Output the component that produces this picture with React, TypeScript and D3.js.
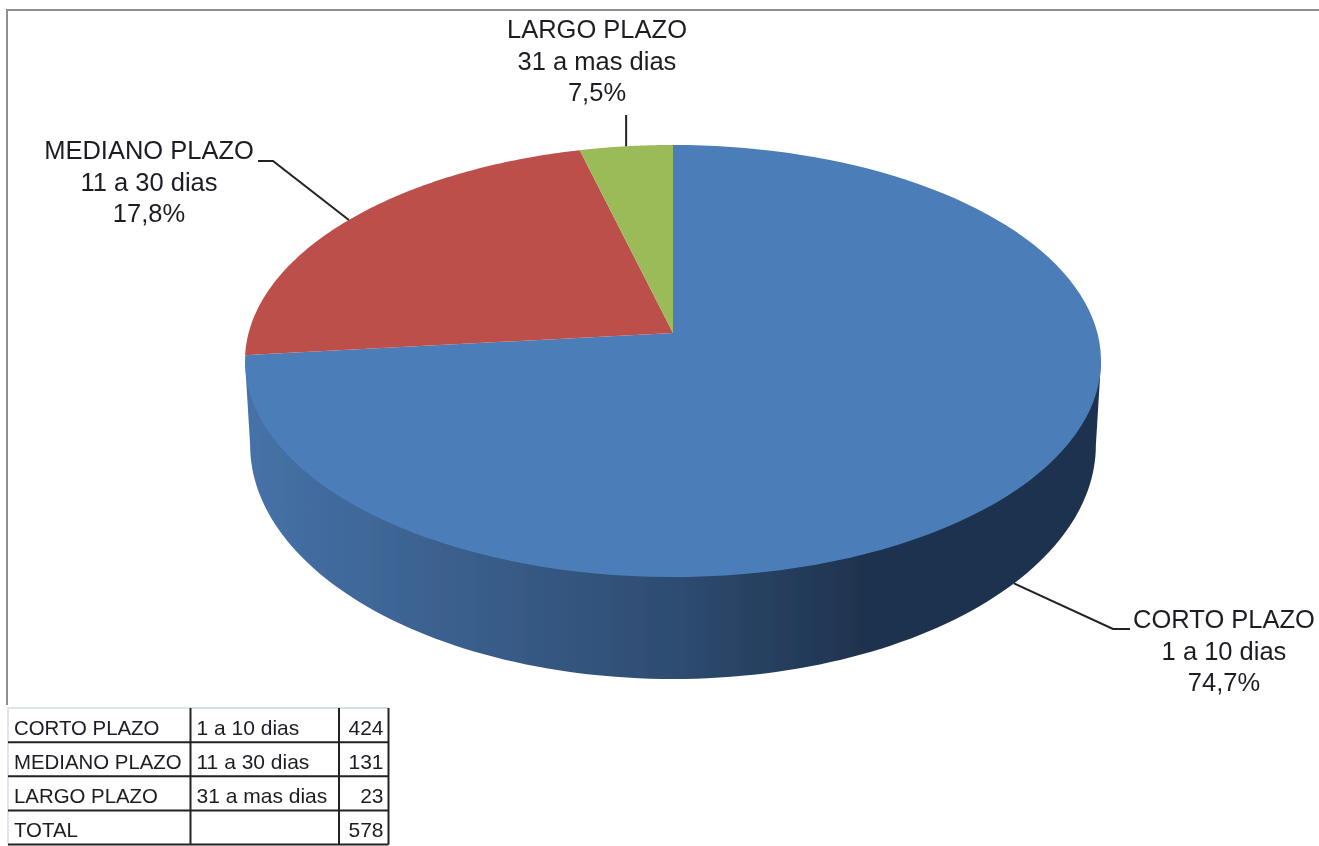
import * as d3 from 'd3';
import { type FC } from 'react';

const categories = ['CORTO PLAZO', 'MEDIANO PLAZO', 'LARGO PLAZO'];
const ranges = ['1 a 10 dias', '11 a 30 dias', '31 a mas dias'];
const counts = [424, 131, 23];
const percentLabels = ['74,7%', '17,8%', '7,5%'];
const sliceColors = ['#4c7db9', '#bd4f4c', '#9bbb59'];

const WIDTH = 1319;
const HEIGHT = 846;
const FONT = '"Liberation Sans", Arial, sans-serif';
const TEXT_COLOR = '#1c1c24';

// Perspective of the disc: unit circle -> screen, fitted to the top ellipse
const cx = 673;
const apexY = 333;
const rx = 424.4;
const ry = 212.4;
const tilt = -0.1296;
// Lower rim of the side wall is a little narrower and rounder than the top
const wallDrop = 81.7;
const wallScaleX = 0.988;
const wallScaleY = 1.083;

const project = (angle: number, drop = 0, sx = 1, sy = 1): [number, number] => {
  const u = Math.sin(angle);
  const v = -Math.cos(angle);
  const w = 1 + tilt * v;
  return [cx + (sx * rx * u) / w, apexY + drop + (sy * ry * v) / w];
};

const arcPoints = (start: number, end: number, drop = 0, sx = 1, sy = 1) =>
  d3.range(0, 121).map((i) => project(start + ((end - start) * i) / 120, drop, sx, sy));

const line = d3.line();

const pieData = d3
  .pie<number>()
  .sort(null)
  .value((d) => d)(counts);

// Where the disc outline is widest, the side wall starts
const sideAngle = Math.acos(tilt);
const wallPath =
  line([
    project(sideAngle),
    ...arcPoints(sideAngle, 2 * Math.PI - sideAngle, wallDrop, wallScaleX, wallScaleY),
    project(2 * Math.PI - sideAngle),
  ]) + 'Z';

const midAngle = (d: d3.PieArcDatum<number>) => (d.startAngle + d.endAngle) / 2;

// Label blocks: centre x, first baseline, and the leader's elbow points
const labelLayout = [
  { x: 1224, y: 628, onWall: true, elbow: [[1113, 629], [1130, 629]] },
  { x: 149, y: 159, onWall: false, elbow: [[273, 161], [258, 161]] },
  { x: 597, y: 38, onWall: false, elbow: [[0, 115]] },
];
const labelLineHeight = 31.5;

// Table grid
const colEdges = [8, 190.5, 339, 388.5];
const rowScale = d3.scaleLinear().domain([0, 4]).range([708, 844.5]);
const tableRows = [
  ...categories.map((c, i) => [c, ranges[i], String(counts[i])]),
  ['TOTAL', '', String(d3.sum(counts))],
];

const App: FC = () => (
  <svg
    width={WIDTH}
    height={HEIGHT}
    viewBox={`0 0 ${WIDTH} ${HEIGHT}`}
    style={{ position: 'absolute', left: 0, top: 0, background: '#fff' }}
  >
    <defs>
      <linearGradient id="wall" gradientUnits="userSpaceOnUse" x1={245} x2={860} y1={0} y2={0}>
        <stop offset="0" stopColor="#4672a8" />
        <stop offset="0.7" stopColor="#2e4c71" />
        <stop offset="1" stopColor="#1f334f" />
      </linearGradient>
      <filter id="soft" x="-5%" y="-5%" width="110%" height="110%">
        <feGaussianBlur stdDeviation="0.5" />
      </filter>
    </defs>

    <g filter="url(#soft)">
      {/* Chart frame */}
      <path d="M7,705V10H1319" fill="none" stroke="#8f8f8f" strokeWidth={2} />

      {/* Side wall */}
      <path d={wallPath} fill="url(#wall)" />

      {/* Top face */}
      {pieData.map((d, i) => (
        <path
          key={categories[i]}
          d={line([[cx, apexY], ...arcPoints(d.startAngle, d.endAngle)]) + 'Z'}
          fill={sliceColors[i]}
        />
      ))}

      {/* Leaders and labels */}
      {pieData.map((d, i) => {
        const layout = labelLayout[i];
        const anchor = layout.onWall
          ? project(midAngle(d), wallDrop, wallScaleX, wallScaleY)
          : project(midAngle(d));
        const points = layout.elbow.map(
          ([x, y]) => [x === 0 ? anchor[0] : x, y] as [number, number],
        );
        return (
          <path
            key={categories[i]}
            d={line([anchor, ...points]) ?? ''}
            fill="none"
            stroke="#222"
            strokeWidth={2}
          />
        );
      })}
      {categories.map((c, i) => (
        <text
          key={c}
          x={labelLayout[i].x}
          y={labelLayout[i].y}
          textAnchor="middle"
          fontFamily={FONT}
          fontSize={25.5}
          fill={TEXT_COLOR}
        >
          {[c, ranges[i], percentLabels[i]].map((t, j) => (
            <tspan key={j} x={labelLayout[i].x} y={labelLayout[i].y + j * labelLineHeight}>
              {t}
            </tspan>
          ))}
        </text>
      ))}

      {/* Table */}
      <path
        d={`M${colEdges[0]},${rowScale(4)}V${rowScale(0)}H${colEdges[1]}`}
        fill="none"
        stroke="#d5deea"
        strokeWidth={1.5}
      />
      <path
        d={`M${colEdges[1]},${rowScale(0)}H${colEdges[3]}`}
        fill="none"
        stroke="#c8d2de"
        strokeWidth={1.5}
      />
      {d3.range(1, 5).map((r) => (
        <line
          key={r}
          x1={colEdges[0]}
          x2={colEdges[3]}
          y1={rowScale(r)}
          y2={rowScale(r)}
          stroke="#222"
          strokeWidth={2}
        />
      ))}
      {colEdges.slice(1).map((x) => (
        <line
          key={x}
          x1={x}
          x2={x}
          y1={rowScale(0)}
          y2={rowScale(4)}
          stroke="#222"
          strokeWidth={2}
        />
      ))}
      {tableRows.map((row, r) => (
        <g key={r} fontFamily={FONT} fill={TEXT_COLOR}>
          <text x={colEdges[0] + 6} y={rowScale(r) + 27} fontSize={20.4}>
            {row[0]}
          </text>
          <text x={colEdges[1] + 6} y={rowScale(r) + 27} fontSize={21}>
            {row[1]}
          </text>
          <text x={colEdges[3] - 5} y={rowScale(r) + 27} fontSize={21} textAnchor="end">
            {row[2]}
          </text>
        </g>
      ))}
    </g>
  </svg>
);

export default App;
